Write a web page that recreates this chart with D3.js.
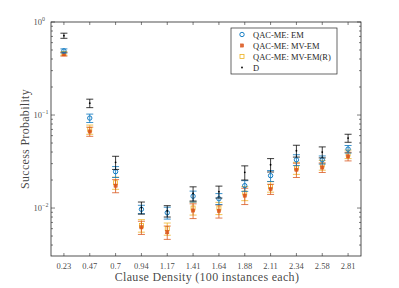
<!DOCTYPE html>
<html>
<head>
<meta charset="utf-8">
<script src="https://cdn.jsdelivr.net/npm/d3@7"></script>
<style>
  body { margin: 0; background: #fff; }
  svg text { font-family: "Liberation Serif", "DejaVu Serif", serif; fill: #262626; }
</style>
</head>
<body>
<div id="plot"></div>
<script>
// clause densities (categories on x)
var densities = ["0.23", "0.47", "0.7", "0.94", "1.17", "1.41", "1.64", "1.88", "2.11", "2.34", "2.58", "2.81"];

// series values and symmetric errors
var emVal = [0.489, 0.0927, 0.0246, 0.0097, 0.0089, 0.0134, 0.0126, 0.0174, 0.0223, 0.033, 0.033, 0.043];
var emErr = [0.025, 0.0096, 0.0033, 0.0010, 0.0013, 0.0018, 0.0017, 0.0023, 0.003, 0.0044, 0.0033, 0.004];

var mvVal = [0.45, 0.0665, 0.0174, 0.0062, 0.0055, 0.0094, 0.0093, 0.0136, 0.016, 0.0258, 0.0273, 0.0359];
var mvErr = [0.02, 0.0075, 0.0028, 0.0010, 0.0009, 0.0017, 0.0015, 0.0027, 0.002, 0.0045, 0.0032, 0.0038];

var mvrVal = [0.46, 0.070, 0.0187, 0.0065, 0.0060, 0.0100, 0.0100, 0.0145, 0.0170, 0.027, 0.029, 0.038];
var mvrErr = [0.02, 0.008, 0.0028, 0.0010, 0.0009, 0.0016, 0.0015, 0.0025, 0.0022, 0.004, 0.0035, 0.004];

var dVal = [0.713, 0.134, 0.031, 0.0101, 0.0093, 0.0144, 0.0150, 0.0242, 0.0292, 0.0413, 0.040, 0.0565];
var dErr = [0.045, 0.014, 0.005, 0.0015, 0.0013, 0.0025, 0.0022, 0.0042, 0.0048, 0.006, 0.0054, 0.0056];

var series = [
    { name: "QAC-ME: EM", val: emVal, err: emErr, color: "#0072BD", marker: "circle" },
    { name: "QAC-ME: MV-EM", val: mvVal, err: mvErr, color: "#D95319", marker: "filled" },
    { name: "QAC-ME: MV-EM(R)", val: mvrVal, err: mvrErr, color: "#EDB120", marker: "square" },
    { name: "D", val: dVal, err: dErr, color: "#000000", marker: "dot" }
];

var width = 399;
var height = 288;
var plot = { left: 51, right: 361, top: 22, bottom: 256 };
var axisColor = "#262626";

var svg = d3.select("#plot").append("svg")
    .attr("width", width)
    .attr("height", height);

var x = d3.scaleBand()
    .domain(densities)
    .range([plot.left, plot.right]);

var y = d3.scaleLog()
    .domain([0.00305, 1])
    .range([plot.bottom, plot.top]);

function cx(d) { return x(d) + x.bandwidth() / 2; }

// box
svg.append("rect")
    .attr("x", plot.left).attr("y", plot.top)
    .attr("width", plot.right - plot.left)
    .attr("height", plot.bottom - plot.top)
    .attr("fill", "none")
    .attr("stroke", axisColor)
    .attr("stroke-width", 0.8);

// x ticks, bottom and top, pointing inward
densities.forEach(function(d) {
    svg.append("line")
        .attr("x1", cx(d)).attr("x2", cx(d))
        .attr("y1", plot.bottom).attr("y2", plot.bottom - 3)
        .attr("stroke", axisColor).attr("stroke-width", 0.6);
    svg.append("line")
        .attr("x1", cx(d)).attr("x2", cx(d))
        .attr("y1", plot.top).attr("y2", plot.top + 3)
        .attr("stroke", axisColor).attr("stroke-width", 0.6);
    svg.append("text")
        .attr("x", cx(d)).attr("y", plot.bottom + 13)
        .attr("text-anchor", "middle")
        .attr("font-size", 8.5)
        .attr("fill-opacity", 0.85)
        .text(d);
});

// y ticks, major and minor, on both sides
var minor = [];
[0.001, 0.01, 0.1].forEach(function(dec) {
    for (var k = 1; k <= 9; k++) {
        var v = dec * k;
        if (v >= y.domain()[0] && v <= 1) minor.push(v);
    }
});
minor.push(1);
minor.forEach(function(v) {
    var major = Math.abs(Math.log10(v) - Math.round(Math.log10(v))) < 1e-9;
    var len = major ? 4 : 2;
    svg.append("line")
        .attr("x1", plot.left).attr("x2", plot.left + len)
        .attr("y1", y(v)).attr("y2", y(v))
        .attr("stroke", axisColor).attr("stroke-width", 0.6);
    svg.append("line")
        .attr("x1", plot.right).attr("x2", plot.right - len)
        .attr("y1", y(v)).attr("y2", y(v))
        .attr("stroke", axisColor).attr("stroke-width", 0.6);
});

[1, 0.1, 0.01].forEach(function(v) {
    var e = Math.round(Math.log10(v));
    svg.append("text")
        .attr("x", plot.left - 9).attr("y", y(v) + 3)
        .attr("text-anchor", "end")
        .attr("font-size", 8.5)
        .attr("fill-opacity", 0.85)
        .text("10");
    svg.append("text")
        .attr("x", plot.left - 9).attr("y", y(v) - 1)
        .attr("text-anchor", "start")
        .attr("font-size", 6)
        .attr("fill-opacity", 0.85)
        .text(e === 0 ? "0" : String(e).replace("-", "\u2212"));
});

// axis labels
svg.append("text")
    .attr("x", (plot.left + plot.right) / 2 + 1)
    .attr("y", 281)
    .attr("text-anchor", "middle")
    .attr("font-size", 12)
    .attr("letter-spacing", 0.3)
    .attr("fill-opacity", 0.85)
    .text("Clause Density (100 instances each)");

svg.append("text")
    .attr("transform", "translate(29," + ((plot.top + plot.bottom) / 2) + ") rotate(-90)")
    .attr("text-anchor", "middle")
    .attr("font-size", 12)
    .attr("letter-spacing", 0.3)
    .attr("fill-opacity", 0.85)
    .text("Success Probability");

function drawMarker(g, s, px, py) {
    if (s.marker === "circle") {
        g.append("circle").attr("cx", px).attr("cy", py).attr("r", 2.2)
            .attr("fill", "none").attr("stroke", s.color).attr("stroke-width", 0.9);
    } else if (s.marker === "filled") {
        g.append("rect").attr("x", px - 1.6).attr("y", py - 1.6).attr("width", 3.2).attr("height", 3.2)
            .attr("fill", s.color).attr("fill-opacity", 0.85).attr("stroke", s.color).attr("stroke-width", 0.5);
    } else if (s.marker === "square") {
        g.append("rect").attr("x", px - 2).attr("y", py - 2).attr("width", 4).attr("height", 4)
            .attr("fill", "none").attr("stroke", s.color).attr("stroke-width", 0.8);
    } else {
        g.append("circle").attr("cx", px).attr("cy", py).attr("r", 0.9)
            .attr("fill", s.color);
    }
}

// error bars and markers; draw order so D sits on top of the others
var order = [2, 1, 0, 3];
var cap = 3.5;
order.forEach(function(i) {
    var s = series[i];
    var g = svg.append("g").attr("class", "series");
    densities.forEach(function(d, j) {
        var px = cx(d);
        var lo = y(s.val[j] - s.err[j]);
        var hi = y(s.val[j] + s.err[j]);
        g.append("line")
            .attr("x1", px).attr("x2", px).attr("y1", lo).attr("y2", hi)
            .attr("stroke", s.color).attr("stroke-width", 0.9).attr("opacity", 0.85);
        [lo, hi].forEach(function(yy) {
            g.append("line")
                .attr("x1", px - cap).attr("x2", px + cap).attr("y1", yy).attr("y2", yy)
                .attr("stroke", s.color).attr("stroke-width", 0.9).attr("opacity", 0.85);
        });
        drawMarker(g, s, px, y(s.val[j]));
    });
});

// legend
var legend = svg.append("g").attr("transform", "translate(231,28)");
legend.append("rect")
    .attr("width", 106).attr("height", 46)
    .attr("fill", "#fff")
    .attr("stroke", axisColor).attr("stroke-width", 0.7);
series.forEach(function(s, i) {
    var ly = 6.5 + i * 11;
    drawMarker(legend, s, 11, ly);
    legend.append("text")
        .attr("x", 22).attr("y", ly + 3)
        .attr("font-size", 8.5)
        .text(s.name);
});
</script>
</body>
</html>
